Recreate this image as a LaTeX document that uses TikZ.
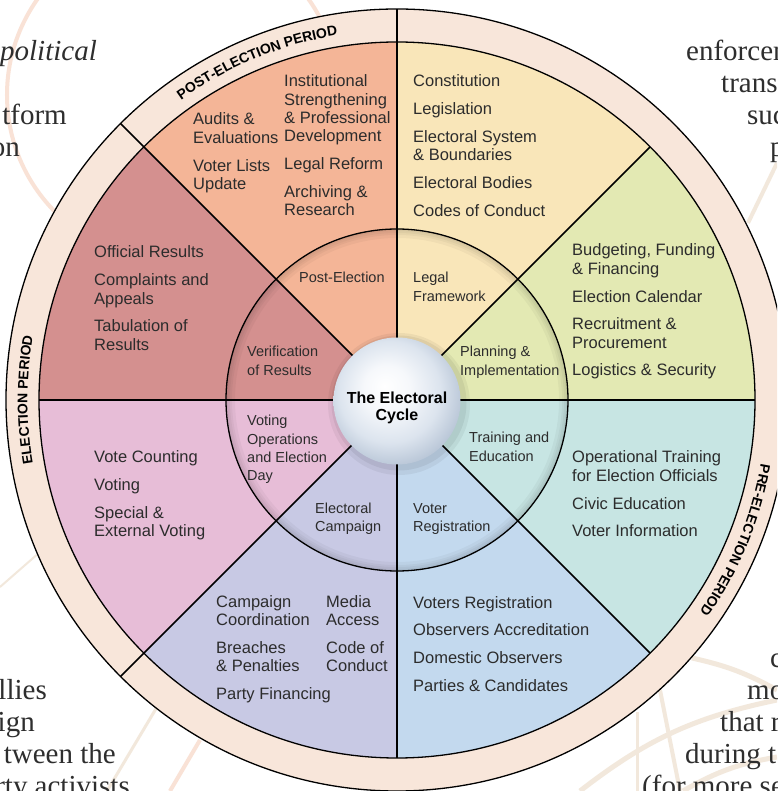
\documentclass[tikz,border=0pt]{standalone}
\usepackage{xcolor}
\usepackage{fontspec}
\setmainfont{Liberation Serif}
\setsansfont{Liberation Sans}
\usepackage{tikz}
\usetikzlibrary{decorations.text}

\definecolor{postcol}{HTML}{F4B597}
\definecolor{legalcol}{HTML}{F9E6B9}
\definecolor{plancol}{HTML}{E3E9B3}
\definecolor{traincol}{HTML}{C7E5E3}
\definecolor{regcol}{HTML}{C3D9EE}
\definecolor{campcol}{HTML}{C8C9E4}
\definecolor{votecol}{HTML}{E7BDD7}
\definecolor{verifcol}{HTML}{D4908F}
\definecolor{ringcol}{HTML}{F8E6DA}
\definecolor{inkcol}{HTML}{2C2C2C}
\definecolor{pagecol}{HTML}{2E2E2E}
\definecolor{arccol}{HTML}{F9E2D6}
\definecolor{beigecol}{HTML}{F2E8DC}
\definecolor{hubwhite}{HTML}{F6F8FB}
\definecolor{hubmid}{HTML}{DCE4EE}
\definecolor{hubedge}{HTML}{AEBDD0}

\pgfdeclareradialshading{hubshade}{\pgfpoint{-5bp}{6bp}}{%
    color(0bp)=(white);
    color(9bp)=(hubwhite);
    color(20bp)=(hubmid);
    color(31bp)=(hubedge);
    color(50bp)=(hubedge)}

% multi-line nodes sit on the baseline of their last line
\tikzset{
    wheelline/.style={line width=1.6pt, black},
    rimline/.style={line width=1.3pt, black},
    itemlist/.style={font=\sffamily\fontsize{16.5}{18.3}\selectfont, text=inkcol,
        align=left, anchor=base west, inner sep=0pt},
    phaselabel/.style={font=\sffamily\fontsize{14.5}{18.2}\selectfont, text=inkcol,
        align=left, anchor=base west, inner sep=0pt},
    pagetext/.style={font=\rmfamily\fontsize{29}{32}\selectfont, text=pagecol, inner sep=0pt},
    periodtext/.style={decorate, decoration={text along path, text align=center,
        text={|\color{black}\sffamily\bfseries\fontsize{14}{14}\selectfont|#1}}}
}

\begin{document}
\begin{tikzpicture}[x=1pt, y=1pt]
                \useasboundingbox (-397,-391) rectangle (380,400);
                \clip (-397,-391) rectangle (380,400);
                \fill[white] (-397,-391) rectangle (380,400);

                % the page behind the wheel
                \draw[arccol, line width=4pt] (-224,305) circle (166);
                \draw[beigecol, line width=4pt] (380,237) -- (351,177);
                \draw[beigecol, line width=2pt] (-397,-187) -- (-357,-152);
                \draw[beigecol, line width=3pt] (-240,-307) -- (-290,-391);
                \draw[arccol, line width=4pt] (-197,-340) -- (-227,-391);
                \draw[beigecol, line width=5pt] (295,-258) to[bend left=8] (380,-290);
                \draw[beigecol, line width=5pt] (183,-391) to[bend left=13] (380,-300);
                \draw[beigecol, line width=5pt] (286,-391) to[bend left=10] (380,-357);
                \draw[beigecol, line width=4pt] (263,-290) -- (283,-391);
                \draw[beigecol, line width=3pt] (240,-312) -- (240,-391);

                \node[pagetext, anchor=base east] (fragpolitical) at (-300,339.5) {\itshape political};
                \node[pagetext, anchor=base east] (fragplatform) at (-330,275.5) {tform};
                \node[pagetext, anchor=base east] (fragon) at (-377,243.5) {on};
                \node[pagetext, anchor=base west] (fragenforce) at (289,339.5) {enforcem};
                \node[pagetext, anchor=base west] (fragtrans) at (324,307.5) {trans};
                \node[pagetext, anchor=base west] (fragsuch) at (350,275.5) {suc};
                \node[pagetext, anchor=base west] (fragp) at (373,243.5) {p};
                \node[pagetext, anchor=base east] (fragallies) at (-350,-299) {llies};
                \node[pagetext, anchor=base east] (fragign) at (-362,-331) {ign};
                \node[pagetext, anchor=base east] (fragbetween) at (-281,-363) {tween the};
                \node[pagetext, anchor=base east] (fragparty) at (-267,-395) {rty activists};
                \node[pagetext, anchor=base west] (fragc) at (373,-267) {c};
                \node[pagetext, anchor=base west] (fragmo) at (350,-299) {mo};
                \node[pagetext, anchor=base west] (fragthat) at (323,-331) {that r};
                \node[pagetext, anchor=base west] (fragduring) at (288,-363) {during t};
                \node[pagetext, anchor=base west] (fragmore) at (245,-395) {(for more se};

                % rim and sectors
                \fill[ringcol, even odd rule] (0,0) circle (391) (0,0) circle (358);
                \fill[postcol] (0,0) -- (90:358) arc[start angle=90, end angle=135, radius=358] -- cycle;
                \fill[legalcol] (0,0) -- (45:358) arc[start angle=45, end angle=90, radius=358] -- cycle;
                \fill[plancol] (0,0) -- (0:358) arc[start angle=0, end angle=45, radius=358] -- cycle;
                \fill[traincol] (0,0) -- (-45:358) arc[start angle=-45, end angle=0, radius=358] -- cycle;
                \fill[regcol] (0,0) -- (-90:358) arc[start angle=-90, end angle=-45, radius=358] -- cycle;
                \fill[campcol] (0,0) -- (-135:358) arc[start angle=-135, end angle=-90, radius=358] -- cycle;
                \fill[votecol] (0,0) -- (180:358) arc[start angle=180, end angle=225, radius=358] -- cycle;
                \fill[verifcol] (0,0) -- (135:358) arc[start angle=135, end angle=180, radius=358] -- cycle;

                % soft shade inside the middle circle
                \begin{scope}
                    \clip (0,0) circle (171);
                    \foreach \w in {4,8,12,18} {
                        \draw[black, opacity=0.035, line width=\w pt] (0,0) circle (171);
                    }
                \end{scope}

                \draw[rimline] (0,0) circle (391);
                \draw[rimline] (0,0) circle (358);
                \draw[rimline] (0,0) circle (171);

                \draw[wheelline] (0,0) -- (90:391);
                \draw[wheelline] (0,0) -- (135:391);
                \draw[wheelline] (0,0) -- (225:391);
                \draw[wheelline] (0,0) -- (45:358);
                \draw[wheelline] (0,0) -- (0:358);
                \draw[wheelline] (0,0) -- (-45:358);
                \draw[wheelline] (0,0) -- (-90:358);
                \draw[wheelline] (0,0) -- (180:358);

                % hub
                \fill[black, opacity=0.05] (2,-4) circle (71);
                \fill[black, opacity=0.06] (2,-3) circle (67.5);
                \shade[shading=hubshade] (0,-1) circle (63.5);
                \node[font=\sffamily\bfseries\fontsize{16}{17.5}\selectfont, align=center,
                    inner sep=0pt] (hub) at (0,-8) {The Electoral\\Cycle};

                % phases
                \node[phaselabel] (postlbl) at (-98,117) {Post-Election};
                \node[phaselabel] (legallbl) at (16,98.8) {Legal\\Framework};
                \node[phaselabel] (planlbl) at (63,24.8) {Planning \&\\Implementation};
                \node[phaselabel] (trainlbl) at (72,-61.2) {Training and\\Education};
                \node[phaselabel] (reglbl) at (16,-131.2) {Voter\\Registration};
                \node[phaselabel] (camplbl) at (-82,-131.2) {Electoral\\Campaign};
                \node[phaselabel] (votelbl) at (-150,-80.6) {Voting\\Operations\\and Election\\Day};
                \node[phaselabel] (veriflbl) at (-150,24.8) {Verification\\of Results};

                % activities
                \node[itemlist] (postleft) at (-204,210.6)
                    {Audits \&\\Evaluations\\[9.5pt]Voter Lists\\Update};
                \node[itemlist] (postright) at (-113,184.2)
                    {Institutional\\Strengthening\\\& Professional\\Development\\[9.5pt]Legal Reform\\[9.5pt]Archiving \&\\Research};
                \node[itemlist] (legalitems) at (16,183.5)
                    {Constitution\\[9.5pt]Legislation\\[9.5pt]Electoral System\\\& Boundaries\\[9.5pt]Electoral Bodies\\[9.5pt]Codes of Conduct};
                \node[itemlist] (planitems) at (175,24)
                    {Budgeting, Funding\\\& Financing\\[9.5pt]Election Calendar\\[9.5pt]Recruitment \&\\Procurement\\[9.5pt]Logistics \& Security};
                \node[itemlist] (trainitems) at (175,-136.9)
                    {Operational Training\\for Election Officials\\[9.5pt]Civic Education\\[9.5pt]Voter Information};
                \node[itemlist] (regitems) at (16,-291.4)
                    {Voters Registration\\[9.5pt]Observers Accreditation\\[9.5pt]Domestic Observers\\[9.5pt]Parties \& Candidates};
                \node[itemlist] (campleft) at (-181,-299.2)
                    {Campaign\\Coordination\\[9.5pt]Breaches\\\& Penalties\\[9.5pt]Party Financing};
                \node[itemlist] (campright) at (-71,-271.4)
                    {Media\\Access\\[9.5pt]Code of\\Conduct};
                \node[itemlist] (voteitems) at (-303,-136.9)
                    {Vote Counting\\[9.5pt]Voting\\[9.5pt]Special \&\\External Voting};
                \node[itemlist] (verifitems) at (-303,49.8)
                    {Official Results\\[9.5pt]Complaints and\\Appeals\\[9.5pt]Tabulation of\\Results};

                % periods
                \path[periodtext={POST-ELECTION PERIOD}] (150:369.5) arc[start angle=150, end angle=75, radius=369.5];
                \path[periodtext={ELECTION PERIOD}] (225:369.5) arc[start angle=225, end angle=135, radius=369.5];
                \path[periodtext={PRE-ELECTION PERIOD}] (30:369.5) arc[start angle=30, end angle=-75, radius=369.5];
\end{tikzpicture}
\end{document}
